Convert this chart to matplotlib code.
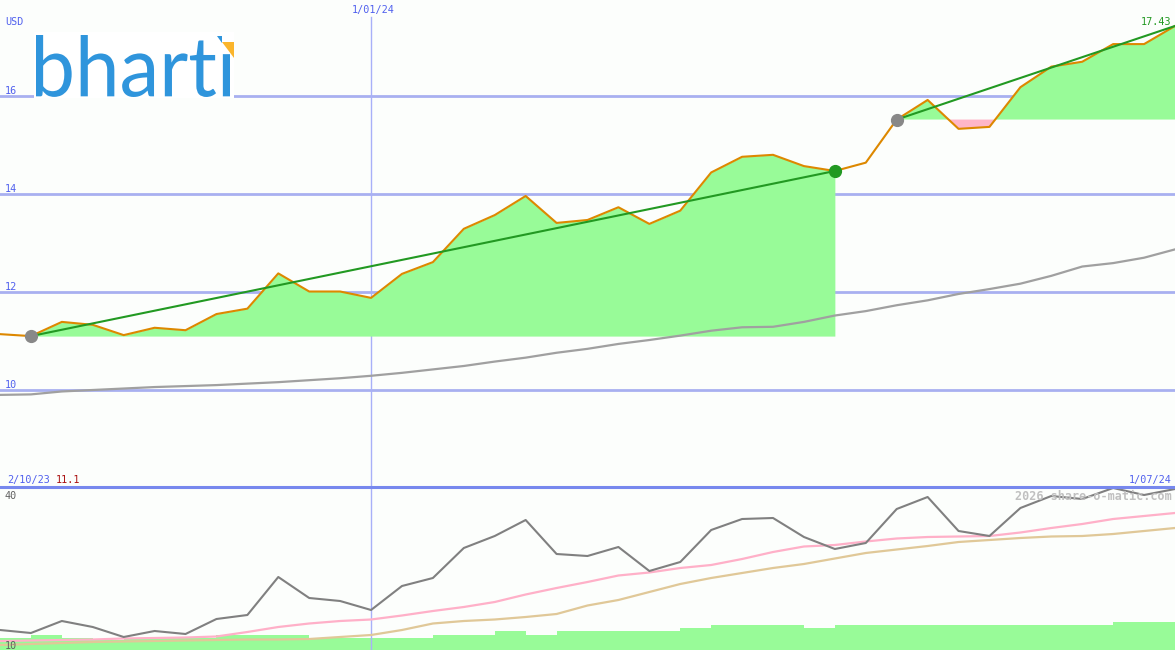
import matplotlib
matplotlib.use("Agg")
import matplotlib.pyplot as plt
import numpy as np
from matplotlib.patches import Rectangle, Polygon, PathPatch
from matplotlib.textpath import TextPath
from matplotlib.font_manager import FontProperties
from matplotlib.transforms import Affine2D, IdentityTransform

# ---- data (weekly)
price = [11.14, 11.10, 11.39, 11.33, 11.12, 11.27, 11.22, 11.55, 11.66, 12.38,
         12.01, 12.01, 11.88, 12.37, 12.61, 13.29, 13.57, 13.96, 13.41, 13.47,
         13.73, 13.39, 13.66, 14.44, 14.76, 14.80, 14.57, 14.47, 14.64, 15.52,
         15.92, 15.33, 15.37, 16.18, 16.60, 16.70, 17.06, 17.06, 17.43]
ma_long = [9.90, 9.91, 9.97, 10.00, 10.03, 10.06, 10.08, 10.10, 10.13, 10.16,
           10.20, 10.24, 10.29, 10.35, 10.42, 10.49, 10.58, 10.66, 10.76, 10.84,
           10.94, 11.02, 11.11, 11.21, 11.28, 11.29, 11.39, 11.52, 11.61, 11.73,
           11.83, 11.96, 12.06, 12.17, 12.33, 12.52, 12.59, 12.70, 12.87]
osc = [12.2, 11.6, 14.0, 12.8, 10.8, 12.0, 11.4, 14.4, 15.2, 22.8,
       18.6, 18.0, 16.2, 21.0, 22.6, 28.6, 31.0, 34.2, 27.4, 27.0,
       28.8, 24.0, 25.8, 32.2, 34.4, 34.6, 30.8, 28.4, 29.6, 36.4,
       38.8, 32.0, 31.0, 36.6, 39.0, 38.4, 40.6, 39.2, 40.4]
osc_fast = [10.0, 10.1, 10.2, 10.3, 10.5, 10.6, 10.7, 10.9, 11.8, 12.8,
            13.5, 14.0, 14.3, 15.1, 16.0, 16.8, 17.8, 19.3, 20.6, 21.8,
            23.1, 23.7, 24.6, 25.2, 26.4, 27.8, 28.9, 29.2, 29.9, 30.5,
            30.8, 30.9, 31.0, 31.7, 32.6, 33.4, 34.4, 35.0, 35.6]
osc_slow = [9.2, 9.4, 9.6, 9.8, 9.9, 10.0, 10.1, 10.2, 10.3, 10.3,
            10.4, 10.8, 11.2, 12.2, 13.5, 14.0, 14.3, 14.8, 15.4, 17.1,
            18.2, 19.8, 21.4, 22.6, 23.6, 24.6, 25.4, 26.5, 27.6, 28.3,
            29.0, 29.8, 30.2, 30.6, 30.9, 31.0, 31.4, 32.0, 32.6]
volume = [7.2, 9.2, 7.2, 6.1, 7.2, 7.2, 7.2, 9.2, 9.2, 9.2,
          7.2, 7.2, 7.2, 7.2, 9.2, 9.2, 11.7, 9.2, 11.7, 11.7,
          11.7, 11.7, 13.3, 15.3, 15.3, 15.3, 13.7, 15.3, 15.3, 15.3,
          15.3, 15.3, 15.3, 15.3, 15.3, 15.3, 17.4, 17.4]
trend_segments = [(1, 27), (29, 38)]
grid_levels = [10, 12, 14, 16]
osc_levels = [40, 10]
year_mark = 12
start_label, mid_label, end_label = "2/10/23", "1/01/24", "1/07/24"

W, H = 1175, 650
BG = "#fcfefc"
BLUE = "#5060ee"
MONO = "DejaVu Sans Mono"
FS = 7.3

x = np.arange(len(price))
price = np.array(price)

fig = plt.figure(figsize=(W / 100, H / 100), dpi=100, facecolor=BG)

def fx(px):
    return px / W

def fy(py):
    return 1 - py / H

# ---- upper panel: price
ax = fig.add_axes([0, 163 / H, 1, 487 / H])
ax.set_facecolor(BG)
ax.set_xlim(0, 38)
ax.set_ylim(8.02, 17.96)
ax.axis("off")

for lv in grid_levels:
    ax.axhline(lv, color="#a8b0f0", lw=2, zorder=1)
    ax.text(0.15, lv + 0.045, str(lv), color=BLUE, fontsize=FS, family=MONO,
            va="baseline", ha="left", zorder=6)
ax.axvline(year_mark, ymin=0, ymax=(487 - 17) / 487, color="#a8b0f8", lw=1, zorder=1)

for a, b in trend_segments:
    seg = x[a:b + 1]
    base = price[a]
    vals = price[a:b + 1]
    ax.fill_between(seg, base, vals, where=vals >= base, interpolate=True,
                    color="#98fb98", lw=0, zorder=2)
    ax.fill_between(seg, base, vals, where=vals <= base, interpolate=True,
                    color="#ffb6c8", lw=0, zorder=2)

ax.plot(x, ma_long, color="#a0a0a0", lw=1.6, zorder=3)
ax.plot(x, price, color="#dd8800", lw=1.5, zorder=4)
for a, b in trend_segments:
    ax.plot([a, b], [price[a], price[b]], color="#229922", lw=1.5, zorder=5)
ax.plot([1, 29], [price[1], price[29]], "o", color="#888888", ms=8.5, zorder=6)
ax.plot([27], [price[27]], "o", color="#229922", ms=8.5, zorder=6)

# ---- lower panel
bx = fig.add_axes([0, 0, 1, 163 / H])
bx.set_facecolor(BG)
bx.set_xlim(0, 38)
bx.set_ylim(8.2, 40.8)
bx.axis("off")
vx = bx.twinx()
vx.set_ylim(0, 100)
vx.axis("off")
vx.bar(x[:-1], volume, width=1, align="edge", color="#98fb98", lw=0, zorder=1)
bx.set_zorder(vx.get_zorder() + 1)
bx.patch.set_visible(False)
bx.axvline(year_mark, color="#a8b0f8", lw=1, zorder=1)
bx.plot(x, osc_slow, color="#e0c898", lw=1.6, zorder=3)
bx.plot(x, osc_fast, color="#ffb0c8", lw=1.6, zorder=3)
bx.plot(x, osc, color="#808080", lw=1.5, zorder=4)
for lv in osc_levels:
    bx.text(0.15, lv - 1.6, str(lv), color="#606060", fontsize=FS, family=MONO,
            va="baseline", ha="left", zorder=6)

# separator between panels
fig.add_artist(plt.Line2D([0, 1], [fy(487), fy(487)], color="#7788ee", lw=2.2))

# ---- texts
fig.text(fx(5), fy(25), "USD", color=BLUE, fontsize=FS, family=MONO, va="baseline")
fig.text(fx(373), fy(13), mid_label, color=BLUE, fontsize=FS, family=MONO,
         va="baseline", ha="center")
fig.text(fx(1171), fy(25), f"{price[-1]:.2f}", color="#229922", fontsize=FS,
         family=MONO, va="baseline", ha="right")
fig.text(fx(7), fy(483), start_label, color=BLUE, fontsize=FS, family=MONO,
         va="baseline")
fig.text(fx(56), fy(483), f"{price[1]:.1f}", color="#aa1111", fontsize=FS,
         family=MONO, va="baseline")
fig.text(fx(1172), fy(483), end_label, color=BLUE, fontsize=FS, family=MONO,
         va="baseline", ha="right")
fig.text(fx(1172), fy(500), "2026 share-o-matic.com", color="#c0c0c0", fontsize=8.5,
         family=MONO, weight="bold", va="baseline", ha="right")

# ---- logo
fig.add_artist(Rectangle((fx(34), fy(98)), fx(200), 66 / H, color="white",
                         lw=0, zorder=7))
tp = TextPath((0, 0), "bhart\u0131", size=100, prop=FontProperties(family="Lato"))
ext = tp.get_extents()
logo_tf = (Affine2D().translate(-ext.x0, -ext.y0)
           .scale(194 / ext.width, 62 / ext.height)
           .translate(36, H - 97))
fig.add_artist(PathPatch(logo_tf.transform_path(tp), transform=IdentityTransform(),
                         color="#2f95dc", lw=0, zorder=8))
fig.add_artist(Polygon([(fx(222), fy(42)), (fx(234), fy(42)), (fx(234), fy(58))],
                       closed=True, color="#fbb52b", lw=0, zorder=9))
fig.add_artist(Polygon([(fx(217), fy(36)), (fx(222), fy(36)), (fx(222), fy(43))],
                       closed=True, color="#2f95dc", lw=0, zorder=9))

fig.savefig("out.png", dpi=100, facecolor=BG)
